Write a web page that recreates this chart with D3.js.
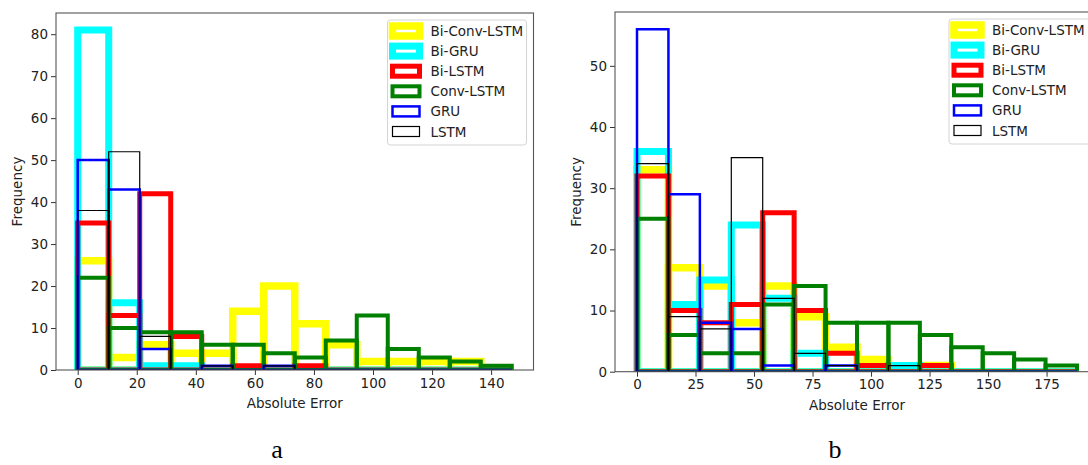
<!DOCTYPE html>
<html>
<head>
<meta charset="utf-8">
<script src="https://cdn.jsdelivr.net/npm/d3@7"></script>
<style>
  html, body { margin: 0; padding: 0; background: #fff; }
  svg { display: block; }
  text { font-family: "DejaVu Sans", sans-serif; }
  text.caption { font-family: "Liberation Serif", "Times New Roman", serif; }
</style>
</head>
<body>
<svg id="chart" width="1088" height="465"></svg>
<script>
// ---------- data ----------
const seriesNames = ["Bi-Conv-LSTM", "Bi-GRU", "Bi-LSTM", "Conv-LSTM", "GRU", "LSTM"];
const seriesColors = ["#ffff00", "#00ffff", "#ff0000", "#008000", "#0000ff", "#000000"];
const seriesWidths = [7.5, 7, 5, 4, 2.5, 1.2];

// panel a: bin edges (Absolute Error)
const edgesA = [0, 10.5, 21, 31.5, 42, 52.5, 63, 73.5, 84, 94.5, 105, 115.5, 126, 136.5, 147];
const biConvLSTM_a = [26, 3, 6, 4, 4, 14, 20, 11, 6, 2, 2, 2, 2, 0];
const biGRU_a      = [81, 16, 1, 1, 0, 0, 0, 0, 0, 0, 0, 0, 0, 0];
const biLSTM_a     = [35, 13, 42, 8, 0, 1, 0, 1, 0, 0, 0, 0, 0, 0];
const convLSTM_a   = [22, 10, 9, 9, 6, 6, 4, 3, 7, 13, 5, 3, 2, 1];
const gru_a        = [50, 43, 5, 0, 1, 0, 1, 0, 0, 0, 0, 0, 0, 0];
const lstm_a       = [38, 52, 8, 0, 1, 0, 1, 0, 0, 0, 0, 0, 0, 0];
const xTicksA = [0, 20, 40, 60, 80, 100, 120, 140];
const yTicksA = [0, 10, 20, 30, 40, 50, 60, 70, 80];

// panel b
const edgesB = [0, 13.43, 26.86, 40.29, 53.71, 67.14, 80.57, 94, 107.43, 120.86, 134.29, 147.71, 161.14, 174.57, 188];
const biConvLSTM_b = [33, 17, 14, 8, 14, 9, 4, 2, 0, 1, 0, 0, 0, 0];
const biGRU_b      = [36, 11, 15, 24, 12, 3, 0, 0, 1, 0, 0, 0, 0, 0];
const biLSTM_b     = [32, 10, 8, 11, 26, 10, 3, 1, 0, 1, 0, 0, 0, 0];
const convLSTM_b   = [25, 6, 3, 3, 11, 14, 8, 8, 8, 6, 4, 3, 2, 1];
const gru_b        = [56, 29, 8, 7, 1, 0, 1, 0, 0, 0, 0, 0, 0, 0];
const lstm_b       = [34, 9, 7, 35, 12, 3, 1, 0, 1, 0, 0, 0, 0, 0];
const xTicksB = [0, 25, 50, 75, 100, 125, 150, 175];
const yTicksB = [0, 10, 20, 30, 40, 50];

const xLabel = "Absolute Error";
const yLabel = "Frequency";
const captions = ["a", "b"];

// ---------- drawing ----------
const svg = d3.select("#chart");

function panel(cfg) {
  const { left, right, top, bottom, xDomain, yDomain, edges, series, xTicks, yTicks, legend, id } = cfg;
  const x = d3.scaleLinear().domain(xDomain).range([left, right]);
  const y = d3.scaleLinear().domain(yDomain).range([bottom, top]);
  const g = svg.append("g");

  g.append("clipPath").attr("id", id)
    .append("rect").attr("x", left).attr("y", top)
    .attr("width", right - left).attr("height", bottom - top);

  const plot = g.append("g").attr("clip-path", `url(#${id})`);
  series.forEach((vals, si) => {
    const bins = vals.map((v, i) => ({ x0: edges[i], x1: edges[i + 1], v }));
    plot.append("g")
      .selectAll("path").data(bins).join("path")
      .attr("d", d => {
        const x0 = x(d.x0), x1 = x(d.x1), y0 = y(0), y1 = y(d.v);
        return `M${x0},${y0}L${x0},${y1}L${x1},${y1}L${x1},${y0}Z`;
      })
      .attr("fill", "none")
      .attr("stroke", seriesColors[si])
      .attr("stroke-width", seriesWidths[si])
      .attr("stroke-linejoin", "miter");
  });

  // axes
  const xAxis = g.append("g").attr("transform", `translate(0,${bottom})`)
    .call(d3.axisBottom(x).tickValues(xTicks).tickSize(5).tickPadding(3).tickSizeOuter(0));
  const yAxis = g.append("g").attr("transform", `translate(${left},0)`)
    .call(d3.axisLeft(y).tickValues(yTicks).tickSize(5).tickPadding(3).tickSizeOuter(0));
  [xAxis, yAxis].forEach(a => {
    a.select(".domain").remove();
    a.selectAll("line").attr("stroke", "#333").attr("stroke-width", 1);
    a.selectAll("text").attr("font-family", "DejaVu Sans").attr("font-size", 13.5).attr("fill", "#222");
  });

  // spines
  g.append("rect").attr("x", left).attr("y", top)
    .attr("width", right - left).attr("height", bottom - top)
    .attr("fill", "none").attr("stroke", "#555").attr("stroke-width", 1.1);

  // axis labels
  g.append("text").attr("x", (left + right) / 2).attr("y", bottom + 38)
    .attr("text-anchor", "middle").attr("font-size", 13.5).attr("fill", "#222").text(xLabel);
  g.append("text")
    .attr("transform", `translate(${left - 34},${(top + bottom) / 2}) rotate(-90)`)
    .attr("text-anchor", "middle").attr("font-size", 13.5).attr("fill", "#222").text(yLabel);

  // legend
  const lg = g.append("g").attr("transform", `translate(${legend.x},${legend.y})`);
  lg.append("rect").attr("x", 0).attr("y", 0).attr("width", legend.w).attr("height", 125)
    .attr("rx", 3).attr("fill", "#fff").attr("fill-opacity", 0.85)
    .attr("stroke", "#d4d4d4").attr("stroke-width", 1);
  seriesNames.forEach((name, i) => {
    const cy = 11 + i * 20.1;
    lg.append("rect").attr("x", 5).attr("y", cy - 5).attr("width", 27).attr("height", 10)
      .attr("fill", "none").attr("stroke", seriesColors[i]).attr("stroke-width", seriesWidths[i]);
    lg.append("text").attr("x", 43).attr("y", cy + 5)
      .attr("font-size", 13.5).attr("fill", "#222").text(name);
  });
}

panel({
  id: "clipA", left: 56, right: 533.5, top: 13, bottom: 370,
  xDomain: [-7.35, 154.35], yDomain: [0, 85.05], edges: edgesA,
  series: [biConvLSTM_a, biGRU_a, biLSTM_a, convLSTM_a, gru_a, lstm_a],
  xTicks: xTicksA, yTicks: yTicksA,
  legend: { x: 387.5, y: 20, w: 139 }
});

panel({
  id: "clipB", left: 615, right: 1099, top: 12, bottom: 371.7,
  xDomain: [-9.4, 197.4], yDomain: [0, 58.8], edges: edgesB,
  series: [biConvLSTM_b, biGRU_b, biLSTM_b, convLSTM_b, gru_b, lstm_b],
  xTicks: xTicksB, yTicks: yTicksB,
  legend: { x: 949, y: 19, w: 145 }
});

// captions
svg.append("text").attr("class", "caption").attr("x", 277).attr("y", 458).attr("text-anchor", "middle")
  .attr("font-size", 26).attr("fill", "#000").text(captions[0]);
svg.append("text").attr("class", "caption").attr("x", 835).attr("y", 458).attr("text-anchor", "middle")
  .attr("font-size", 26).attr("fill", "#000").text(captions[1]);
</script>
</body>
</html>
